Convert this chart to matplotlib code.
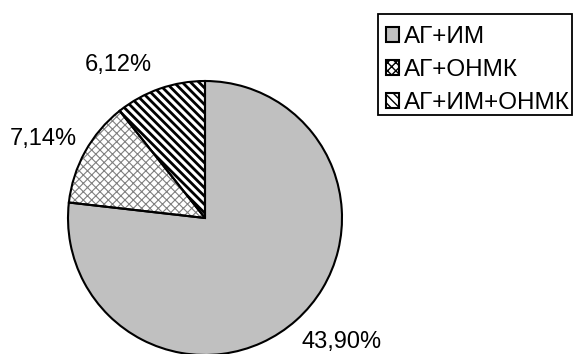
import matplotlib
matplotlib.use('Agg')
import matplotlib.pyplot as plt
from matplotlib.patches import Patch, Rectangle

plt.rcParams['font.family'] = ['Liberation Sans', 'DejaVu Sans']

# доли групп пациентов, %
groups = ['АГ+ИМ', 'АГ+ОНМК', 'АГ+ИМ+ОНМК']
shares = [43.90, 7.14, 6.12]

fills = ['#c0c0c0', 'white', 'white']
hatches = [None, 'xxxx', '\\\\\\\\']
hatch_colors = [None, '#808080', 'black']
hatch_widths = [1.0, 0.8, 2.0]

# куда ставить подписи (в радиусах пирога)
label_xy = [(1.0, -0.905), (-1.18, 0.58), (-0.63, 1.12)]

W, H = 573, 354
fig = plt.figure(figsize=(W / 100, H / 100), dpi=100)
cx, cy, r = 205, 218, 137
ax = fig.add_axes([(cx - r) / W, (H - cy - r) / H, 2 * r / W, 2 * r / H])

wedges, _ = ax.pie(shares, startangle=90, counterclock=False,
                   colors=fills, wedgeprops=dict(linewidth=0))
for w, h, hc, hw in zip(wedges, hatches, hatch_colors, hatch_widths):
    if h:
        w.set_hatch(h)
        w.set_edgecolor(hc)
        w.set_linewidth(0)
        if hasattr(w, 'set_hatch_linewidth'):
            w.set_hatch_linewidth(hw)

# чёрные контуры секторов поверх штриховки
ax.pie(shares, startangle=90, counterclock=False,
       wedgeprops=dict(fill=False, edgecolor='black', linewidth=1.5))

ax.set_xlim(-1, 1)
ax.set_ylim(-1, 1)
ax.set_aspect('equal')

for v, (x, y) in zip(shares, label_xy):
    ax.text(x, y, f'{v:.2f}%'.replace('.', ','), ha='center', va='center',
            fontsize=17)

# легенда без рамки, рамку рисуем отдельно
handles = []
for f, h in zip(fills, hatches):
    handles.append(Patch(facecolor=f, edgecolor='black', hatch=h, linewidth=1.5))

leg = fig.legend(handles, groups, loc='upper left', bbox_to_anchor=(386 / W, 1 - 26 / H),
                 fontsize=17.5, frameon=False,
                 handlelength=0.55, handleheight=0.55,
                 handletextpad=0.2, labelspacing=0.46, borderpad=0,
                 borderaxespad=0)

fig.patches.append(Rectangle((378 / W, 1 - 115 / H), 194 / W, 101 / H,
                             transform=fig.transFigure, fill=False,
                             edgecolor='black', linewidth=1.3))

fig.savefig('out.png', dpi=100)
